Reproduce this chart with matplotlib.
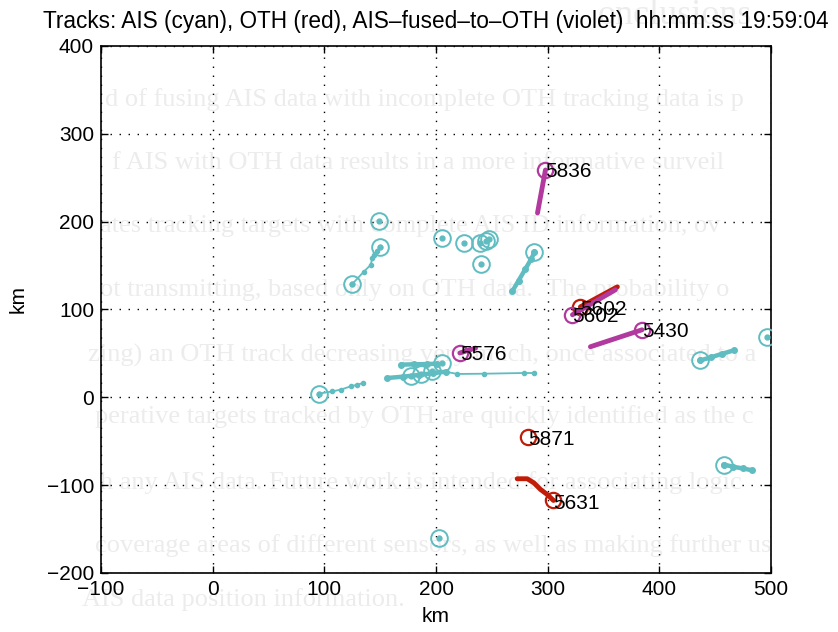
import matplotlib
matplotlib.use("Agg")
import matplotlib.pyplot as plt

plt.rcParams['font.family'] = ['Liberation Sans', 'DejaVu Sans']

# ---------------- data ----------------
title = "Tracks: AIS (cyan), OTH (red), AIS\u2013fused\u2013to\u2013OTH (violet)  hh:mm:ss 19:59:04"
x_ticks = [-100, 0, 100, 200, 300, 400, 500]
y_ticks = [-200, -100, 0, 100, 200, 300, 400]

# AIS tracks (cyan): thin history lines with dots
ais_thin_x = [
    [125.1, 135.5, 141.5, 143.0, 144.5, 147.0, 149.7],
    [95.3, 107.2, 114.7, 123.6, 129.6, 134.9],
    [208.6, 219.1, 242.8, 278.6, 287.6],
]
ais_thin_y = [
    [129.2, 143.2, 150.8, 158.4, 162.2, 166.5, 170.9],
    [4.2, 6.8, 8.8, 12.5, 14.4, 16.4],
    [29.2, 26.6, 26.9, 27.7, 27.7],
]
# AIS tracks (cyan): dense (thick) history segments
ais_thick_x = [
    [268.2, 274.0, 280.0, 285.0, 288.2],
    [168.3, 180.0, 192.0, 201.1],
    [156.4, 170.0, 185.0, 197.0, 208.6],
    [436.7, 446.0, 456.0, 466.5],
    [457.5, 466.0, 475.0, 482.8],
]
ais_thick_y = [
    [120.5, 133.0, 146.0, 157.0, 165.2],
    [37.2, 37.6, 37.9, 38.3],
    [22.0, 23.5, 25.5, 27.5, 29.2],
    [42.0, 45.5, 49.5, 53.4],
    [-76.5, -79.0, -81.0, -83.0],
]
# AIS current positions (circles)
ais_pos_x = [149.3, 149.7, 125.1, 205.5, 224.9, 239.1, 247.3, 245.0, 239.9,
             288.2, 95.3, 205.5, 177.3, 186.2, 196.7, 436.7, 496.3, 457.5, 202.6]
ais_pos_y = [200.8, 170.9, 129.2, 181.8, 176.1, 175.5, 180.0, 178.0, 151.9,
             165.2, 4.2, 39.1, 24.7, 26.9, 29.5, 42.0, 68.2, -76.5, -160.6]

# AIS-fused-to-OTH tracks (violet)
fused_ids = ["5836", "5602", "5430", "5576"]
fused_x = [[290.9, 298.0], [360.6, 322.2], [338.3, 384.5], [235.4, 221.4]]
fused_y = [[209.9, 258.8], [122.4, 94.0], [57.6, 76.9], [56.1, 50.5]]

# OTH tracks (red)
oth_ids = ["5602", "5871", "5631"]
oth_x = [[362.4, 329.3], [282.8], [272.7, 281.7, 287.6, 293.6, 299.6, 305.2]]
oth_y = [[125.8, 103.0], [-44.7], [-92.7, -92.7, -97.3, -104.9, -110.6, -117.4]]

# faint text of the page behind the figure
bg_lines = [
    "d of fusing AIS data with incomplete OTH tracking data is p",
    "f AIS with OTH data results in a more informative surveil",
    "ates tracking targets with complete AIS ID information, ov",
    "ot transmitting, based only on OTH data.  The probability o",
    "zing) an OTH track decreasing very much, once associated to a",
    "perative targets tracked by OTH are quickly identified as the c",
    "h any AIS data. Future work is intended for associating logic",
    "coverage areas of different sensors, as well as making further us",
    "AIS data position information.",
]

# ---------------- styles ----------------
CYAN = '#5fbcc0'
VIOLET = '#b23a9f'
RED = '#c01c08'
BG = '#ececec'

W, H = 838, 632
fig = plt.figure(figsize=(W / 100, H / 100), dpi=100)
fig.patch.set_facecolor('white')

# background page text
bg_y = [100, 163, 226, 290, 355, 417, 483, 546, 600]
bg_x = [105, 112, 100, 100, 88, 95, 100, 95, 82]
for s, px, py in zip(bg_lines, bg_x, bg_y):
    fig.text(px / W, 1 - py / H, s, fontsize=19, family='Liberation Serif',
             color=BG, va='center', ha='left', zorder=-5)
fig.text(598 / W, 1 - 16 / H, "onclusions", fontsize=26, family='Liberation Serif',
         color=BG, va='center', ha='left', zorder=-5)

ax = fig.add_axes([101 / W, 1 - 573 / H, 670 / W, 527 / H])
ax.set_facecolor('none')
ax.set_xlim(-100, 500)
ax.set_ylim(-200, 400)
ax.set_xticks(x_ticks)
ax.set_yticks(y_ticks)
ax.tick_params(direction='in', top=True, right=True, length=5, width=1,
               labelsize=15, pad=5)
for sp in ax.spines.values():
    sp.set_linewidth(1.2)
ax.grid(True, color='k', linestyle=(0, (1, 5.5)), linewidth=1.0)
ax.set_axisbelow(True)

# cyan AIS
for xs, ys in zip(ais_thin_x, ais_thin_y):
    ax.plot(xs, ys, '-', color=CYAN, lw=1.3, marker='o', ms=3, zorder=3)
for xs, ys in zip(ais_thick_x, ais_thick_y):
    ax.plot(xs, ys, '-', color=CYAN, lw=3.2, solid_capstyle='round', marker='o', ms=4, zorder=3)
ax.plot(ais_pos_x, ais_pos_y, 'o', mfc='none', mec=CYAN, ms=12, mew=1.4, ls='none', zorder=4)
ax.plot(ais_pos_x, ais_pos_y, 'o', color=CYAN, ms=3.5, ls='none', zorder=4)

# red OTH
for tid, xs, ys in zip(oth_ids, oth_x, oth_y):
    ax.plot(xs, ys, '-', color=RED, lw=3.5, solid_capstyle='round', zorder=5)
    ax.plot(xs[-1], ys[-1], 'o', mfc='none', mec=RED, ms=11, mew=1.6, zorder=5)
    ax.text(xs[-1], ys[-1] - 3, tid, fontsize=15, ha='left', va='center', zorder=7)

# violet fused
for tid, xs, ys in zip(fused_ids, fused_x, fused_y):
    ax.plot(xs, ys, '-', color=VIOLET, lw=3.5, solid_capstyle='round', zorder=6)
    ax.plot(xs[-1], ys[-1], 'o', mfc='none', mec=VIOLET, ms=11, mew=1.6, zorder=6)
    ax.text(xs[-1], ys[-1] - 2, tid, fontsize=15, ha='left', va='center', zorder=7)

ax.set_title(title, fontsize=16.3, pad=13)
ax.set_xlabel("km", fontsize=15)
ax.set_ylabel("km", fontsize=15)
ax.xaxis.set_label_coords(0.5, -0.065)
ax.yaxis.set_label_coords(-0.11, 0.52)

fig.savefig("out.png", dpi=100)
